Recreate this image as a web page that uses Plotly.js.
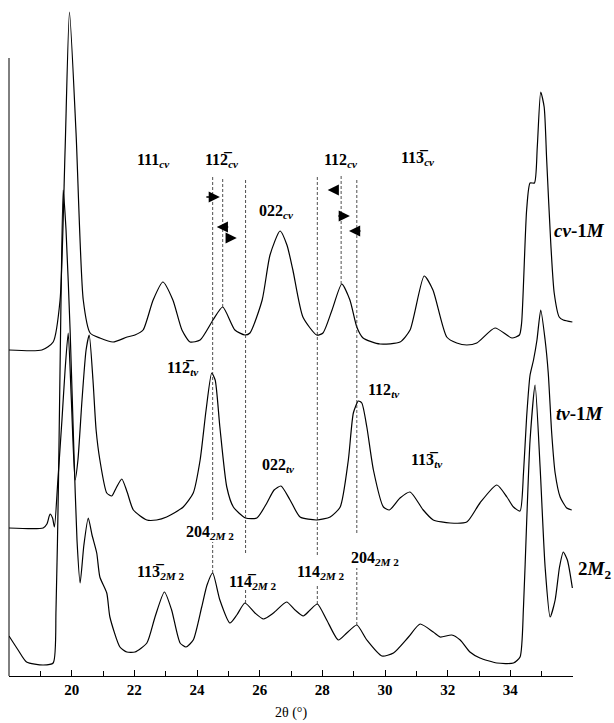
<!DOCTYPE html>
<html>
<head>
<meta charset="utf-8">
<script src="https://cdn.plot.ly/plotly-3.0.1.min.js"></script>
<style>
  html, body { margin: 0; padding: 0; background: #fff; }
  #xrd { width: 614px; height: 723px; }
</style>
</head>
<body>
<div id="xrd"></div>
<script>
"use strict";

// X-ray diffraction patterns, 2theta (deg) vs. intensity (a.u., stacked)
let thetaCv = [18.00, 19.05, 19.41, 19.63, 19.79, 19.93, 20.14, 20.37, 20.59, 20.90,
    21.32, 21.77, 22.02, 22.28, 22.60, 22.91, 23.23, 23.52, 23.78, 24.10,
    24.51, 24.82, 25.21, 25.53, 25.69, 26.08, 26.33, 26.65, 26.87, 27.06,
    27.38, 27.82, 28.02, 28.31, 28.62, 28.88, 29.10, 29.30, 29.84, 30.48,
    30.80, 31.25, 31.53, 31.97, 32.29, 32.61, 32.93, 33.51, 34.05, 34.29,
    34.36, 34.52, 34.63, 34.77, 34.86, 34.97, 35.08, 35.16, 35.29, 35.40,
    35.56, 35.69, 35.98];
let intCv = [326, 326, 334, 376, 526, 664, 543, 376, 343, 338,
    334, 339, 341, 346, 376, 394, 376, 346, 334, 336,
    356, 369, 346, 341, 343, 376, 421, 445, 431, 406,
    359, 341, 343, 366, 392, 376, 349, 338, 332, 334,
    346, 400, 386, 339, 333, 331, 333, 348, 338, 341,
    353, 466, 493, 493, 529, 584, 569, 516, 433, 383,
    359, 356, 354];

let thetaTv = [18.00, 19.09, 19.21, 19.31, 19.39, 19.45, 19.56, 19.69, 19.79, 19.89,
    19.99, 20.11, 20.20, 20.33, 20.46, 20.56, 20.68, 20.78, 20.90, 21.12,
    21.28, 21.42, 21.60, 21.77, 21.97, 22.40, 22.71, 23.03, 23.56, 23.88,
    24.10, 24.29, 24.47, 24.58, 24.73, 24.95, 25.16, 25.55, 25.91, 26.23,
    26.46, 26.68, 26.97, 27.29, 27.82, 28.25, 28.57, 28.83, 28.99, 29.15,
    29.26, 29.42, 29.63, 29.95, 30.14, 30.48, 30.80, 31.22, 31.54, 32.08,
    32.61, 33.03, 33.57, 33.89, 34.10, 34.31, 34.42, 34.52, 34.63, 34.74,
    34.85, 34.97, 35.11, 35.21, 35.32, 35.43, 35.59, 35.80, 35.96];
let intTv = [148, 148, 152, 162, 158, 149, 196, 256, 306, 343,
    276, 196, 216, 276, 326, 341, 296, 246, 216, 183,
    180, 188, 197, 184, 166, 156, 156, 159, 169, 183,
    216, 266, 303, 296, 249, 189, 169, 158, 158, 173,
    186, 190, 176, 159, 156, 159, 169, 216, 263, 275,
    273, 249, 206, 169, 166, 178, 184, 166, 156, 153,
    154, 173, 191, 179, 169, 165, 203, 259, 301, 316,
    336, 366, 336, 303, 243, 203, 179, 168, 166];

let theta2M2 = [18.00, 18.29, 18.56, 19.09, 19.41, 19.50, 19.58, 19.66, 19.73, 19.82,
    19.95, 20.07, 20.17, 20.27, 20.39, 20.53, 20.65, 20.80, 20.90, 21.12,
    21.22, 21.54, 21.76, 22.02, 22.40, 22.66, 22.96, 23.19, 23.46, 23.65,
    23.88, 24.15, 24.32, 24.50, 24.73, 25.05, 25.27, 25.53, 25.85, 26.12,
    26.44, 26.86, 27.13, 27.39, 27.61, 27.84, 28.14, 28.51, 28.78, 29.10,
    29.42, 29.90, 30.27, 30.75, 31.12, 31.54, 31.76, 32.13, 32.40, 32.71,
    33.03, 33.57, 34.10, 34.31, 34.42, 34.52, 34.63, 34.79, 34.95, 35.11,
    35.27, 35.43, 35.57, 35.69, 35.82, 35.98];
let int2M2 = [40, 26, 14, 11, 13, 66, 196, 376, 486, 446,
    346, 226, 136, 93, 131, 158, 141, 123, 99, 83,
    59, 29, 24, 24, 33, 59, 84, 66, 33, 29,
    36, 69, 91, 103, 76, 53, 61, 73, 63, 57,
    63, 74, 66, 60, 66, 72, 56, 36, 43, 51,
    36, 20, 23, 39, 52, 44, 39, 41, 36, 24,
    18, 13, 13, 19, 69, 153, 236, 291, 209, 109,
    59, 76, 109, 124, 116, 88];

let tickValues = [20, 22, 24, 26, 28, 30, 32, 34];

// reflection guides: position (2theta), top and bottom (intensity)
let guideTheta = [24.50, 24.50, 24.82, 25.55, 25.55, 27.84, 27.84, 28.60, 29.10, 29.10];
let guideTop = [499, 134, 499, 498, 86, 500, 90, 500, 496, 108];
let guideBottom = [156, 103, 369, 123, 73, 121, 72, 392, 143, 51];

// reflection labels
let reflText = [
    "111<sub><i>cv</i></sub>", "112\u0305<sub><i>cv</i></sub>", "112<sub><i>cv</i></sub>",
    "113\u0305<sub><i>cv</i></sub>", "022<sub><i>cv</i></sub>",
    "112\u0305<sub><i>tv</i></sub>", "022<sub><i>tv</i></sub>", "112<sub><i>tv</i></sub>",
    "113\u0305<sub><i>tv</i></sub>",
    "204<sub><i>2M</i> 2</sub>", "204<sub><i>2M</i> 2</sub>", "113\u0305<sub><i>2M</i> 2</sub>",
    "114\u0305<sub><i>2M</i> 2</sub>", "114<sub><i>2M</i> 2</sub>"];
let reflTheta = [22.60, 24.80, 28.60, 31.05, 26.55, 23.55, 26.59, 29.97, 31.34,
    24.42, 29.68, 22.85, 25.76, 27.93];
let reflInt = [516, 516, 516, 518, 465, 308, 211, 286, 216, 144, 118, 104, 94, 104];

// peak shift arrows: head position and tail offset (px)
let shiftTheta = [24.73, 24.63, 25.27, 28.17, 28.88, 28.85];
let shiftInt = [479, 449, 438, 486, 460, 445];
let shiftTail = [-15, 13, -12, 12, -13, 13];

// sample names
let sampleNames = ["<i>cv</i>-1<i>M</i>", "<i>tv</i>-1<i>M</i>", "2<i>M</i><sub>2</sub>"];
let sampleInt = [446, 263, 106];

const serif = "Liberation Serif, Times New Roman, serif";

function curve(x, y) {
    return {
        x: x,
        y: y,
        type: "scatter",
        mode: "lines",
        line: {color: "#000", width: 1.2, shape: "spline", smoothing: 0.6},
        hoverinfo: "none",
        showlegend: false
    };
}

let traces = [curve(thetaCv, intCv), curve(thetaTv, intTv), curve(theta2M2, int2M2)];

let shapes = guideTheta.map(function (t, i) {
    return {
        type: "line", xref: "x", yref: "y",
        x0: t, x1: t, y0: guideBottom[i], y1: guideTop[i],
        line: {color: "#222", width: 0.8, dash: "3px,2px"}
    };
});
// left axis line, shorter than the plot
shapes.push({
    type: "line", xref: "paper", yref: "y",
    x0: 0, x1: 0, y0: 0, y1: 618,
    line: {color: "#000", width: 1}
});

let annotations = [];
reflText.forEach(function (txt, i) {
    annotations.push({
        x: reflTheta[i], y: reflInt[i], xref: "x", yref: "y",
        xanchor: "center", yanchor: "middle",
        text: "<b>" + txt + "</b>", showarrow: false,
        font: {family: serif, size: 16, color: "#000"}
    });
});
shiftTheta.forEach(function (t, i) {
    annotations.push({
        x: t, y: shiftInt[i], xref: "x", yref: "y",
        ax: shiftTail[i], ay: 0, text: "", showarrow: true,
        arrowhead: 2, arrowsize: 1.4, arrowwidth: 1.6, arrowcolor: "#000"
    });
});
let samplePaperX = [1.011, 1.013, 1.039];
sampleNames.forEach(function (txt, i) {
    annotations.push({
        x: samplePaperX[i], y: sampleInt[i], xref: "paper", yref: "y",
        xanchor: "center", yanchor: "middle",
        text: "<b>" + txt + "</b>", showarrow: false,
        font: {family: serif, size: 19, color: "#000"}
    });
});

let layout = {
    width: 614,
    height: 723,
    margin: {l: 9, r: 41, t: 0, b: 47},
    paper_bgcolor: "#fff",
    plot_bgcolor: "#fff",
    showlegend: false,
    xaxis: {
        range: [18, 36],
        tickvals: tickValues,
        ticktext: tickValues.map(function (v) { return "<b>" + v + "</b>"; }),
        ticks: "inside",
        ticklen: 6,
        tickwidth: 1,
        tickcolor: "#000",
        minor: {tick0: 18, dtick: 1, ticks: "inside", ticklen: 5, tickcolor: "#000"},
        showline: true,
        linecolor: "#000",
        linewidth: 1,
        showgrid: false,
        zeroline: false,
        tickfont: {family: serif, size: 15, color: "#000"},
        title: {text: "2\u03b8 (\u00b0)", standoff: 10, font: {family: serif, size: 14, color: "#000"}}
    },
    yaxis: {
        range: [0, 676],
        visible: false,
        showgrid: false,
        zeroline: false
    },
    shapes: shapes,
    annotations: annotations
};

Plotly.newPlot("xrd", traces, layout, {staticPlot: true});
</script>
</body>
</html>
